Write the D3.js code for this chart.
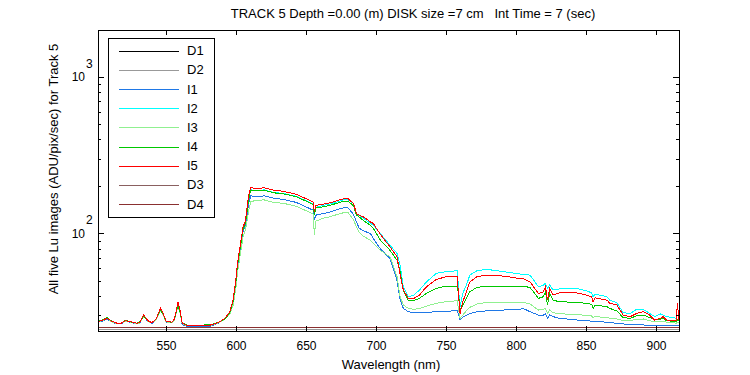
<!DOCTYPE html>
<html>
<head>
<meta charset="utf-8">
<script src="https://cdn.jsdelivr.net/npm/d3@7"></script>
<style>
  body { margin: 0; background: #fff; }
  text { font-family: "Liberation Sans", Arial, sans-serif; fill: #000; }
</style>
</head>
<body>
<div id="container"></div>
<script>
/* CONSTANTS AND GLOBALS */
const width = 750,
  height = 375,
  margin = { top: 30, bottom: 44, left: 98, right: 71 }

/* DATA */
// wavelength grid (nm) shared by the five Lu images
const wavelengths = [
  501, 505, 508, 511, 515, 518, 521, 525, 529, 531,
  534, 537, 540, 543, 546, 548, 550, 554, 556, 558.5,
  560, 561.5, 565, 573, 582, 587, 592, 595.5, 598, 600,
  601, 603, 605, 606.5, 607.5, 609, 610.5, 615, 620, 627,
  634, 643, 650, 655, 656, 657, 662, 667, 672, 677,
  680, 684, 686, 688, 691, 696, 698, 703, 710, 715,
  717, 719.5, 723, 727, 731, 736, 743, 750, 758, 759,
  760, 762, 765, 767, 772, 779, 791, 803, 805, 810,
  816, 819.5, 821, 822.5, 824, 826.5, 831, 843, 850, 854,
  855, 856.5, 865, 867, 872, 876.5, 881.5, 886, 891, 895.5,
  899, 903, 905, 907.5, 914.5, 915.2, 916.4
]

const I1 = [
  27.0, 27.6, 28.3, 27.2, 26.4, 26.5, 27.4, 27.0, 26.4, 26.6,
  29.5, 27.4, 26.6, 28.2, 32.2, 30.1, 27.1, 26.8, 27.9, 34.5,
  31.2, 26.2, 25.4, 25.3, 25.6, 26.6, 28.2, 31.0, 37, 50,
  61, 80, 103, 110, 123, 155, 174, 172, 174, 168,
  165, 158, 148, 141, 122, 131, 134, 137, 142, 146,
  146, 132, 118.6, 108, 104, 100, 93, 80, 69, 50,
  38.5, 33.2, 31.6, 31.2, 31.2, 31.3, 31.6, 31.9, 32, 30.1,
  28, 29.2, 30.1, 30.8, 31.6, 32, 32.4, 32.8, 33.2, 31.6,
  30.1, 30.1, 30.8, 28.7, 30.1, 29.4, 28.7, 28, 27.7, 27.5,
  27.4, 27.4, 27.1, 26.9, 26.7, 26.4, 26.2, 26, 26, 25.9,
  25.8, 25.8, 25.8, 25.7, 25.7, 26, 25.8
]

const I2 = [
  27.2, 27.9, 28.6, 27.4, 26.6, 26.7, 27.6, 27.2, 26.6, 26.8,
  29.8, 27.6, 26.8, 28.5, 32.8, 30.6, 27.4, 27.0, 28.2, 35.5,
  32.0, 26.7, 25.8, 25.8, 26.0, 26.9, 28.5, 31.3, 37, 50,
  62, 82, 107, 116, 132, 168, 190, 188, 190, 183,
  180, 173, 162, 155, 133, 147, 151, 154, 159, 164,
  164, 156, 133, 130, 125, 116, 113, 100, 84, 74.5,
  64, 45.6, 39.4, 40.4, 43.5, 49, 55.6, 57, 57.8, 43.5,
  34, 41.4, 48, 54.2, 57.8, 59, 57, 55, 55, 54.2,
  45.6, 46.8, 48, 44.6, 46.8, 43.5, 44.2, 44.6, 43, 41.8,
  39.4, 41, 39.4, 37.5, 36.1, 31.2, 30.8, 32.7, 32.7, 30.8,
  29.4, 30.6, 30.1, 29.4, 28.7, 30, 29
]

const I3 = [
  27.1, 27.8, 28.8, 27.3, 26.5, 26.6, 27.5, 27.1, 26.5, 26.7,
  29.4, 27.5, 26.7, 28.3, 32.0, 30.0, 27.2, 26.9, 28.0, 34.0,
  31.0, 26.6, 25.7, 25.7, 25.9, 26.7, 28.2, 30.5, 35, 46,
  56, 73, 95, 104, 115, 140, 160, 163, 164, 158,
  156, 149, 140, 133, 98, 120, 125, 128, 132, 136,
  136, 122, 110, 102, 96, 90.6, 86.7, 78, 71, 53,
  40, 34.9, 33.2, 32.7, 33.2, 34.3, 35.8, 36.6, 37.2, 32.4,
  28.7, 30.1, 32.4, 33.7, 35.4, 36.3, 36.3, 36.3, 36.3, 35.4,
  32.4, 32.7, 33.2, 30.8, 32.4, 31.2, 30.6, 30.5, 29.8, 29.7,
  29, 29.4, 29, 28.7, 28.4, 27.7, 27.7, 28.3, 28.4, 27.7,
  27.3, 27.3, 27.5, 27.1, 26.7, 27, 26.8
]

const I4 = [
  27.5, 28.1, 29.0, 27.6, 26.6, 26.8, 27.8, 27.2, 26.7, 27.0,
  29.6, 27.8, 26.9, 28.4, 32.5, 30.4, 27.4, 27.1, 28.1, 34.8,
  31.6, 26.8, 25.9, 25.9, 26.1, 27.0, 28.4, 31.0, 37, 50,
  62, 81, 106, 115, 130, 166, 189, 187, 189, 182,
  179, 172, 161, 153, 131, 146, 148, 151, 156, 161,
  161, 150, 131, 127.6, 121, 113, 108, 91, 78, 67.5,
  58, 43.5, 37.5, 37.2, 38.5, 41.4, 44.6, 46, 46, 40.4,
  32.4, 34.9, 39.4, 42.4, 45.2, 46, 45.6, 45.8, 46, 45.2,
  38.5, 39.4, 42.4, 34.9, 41.4, 37.5, 36.6, 36.3, 35.8, 35.3,
  33.2, 34.9, 34, 33.2, 32, 29, 28.7, 29.7, 30.1, 29,
  28, 28.3, 28.7, 27.7, 27.3, 28, 27.5
]

const I5 = [
  27.3, 28, 28.7, 27.5, 26.7, 26.7, 27.7, 27.3, 26.7, 26.9,
  30.1, 27.7, 26.9, 28.6, 33.2, 30.8, 27.5, 27.1, 28.3, 36.3,
  32.4, 26.7, 25.8, 25.8, 26, 26.9, 28.6, 31.6, 38, 52,
  64, 84, 110, 119, 137, 175, 196, 194, 196, 189,
  186, 178, 167, 159, 137, 151, 154, 157, 162, 167,
  167, 155, 134, 131, 127.6, 118.6, 116, 99, 82, 71,
  55.6, 43.5, 38.5, 38.5, 40.4, 45.6, 50.8, 52.9, 53.4, 39.4,
  30.8, 36.6, 43.5, 49, 52.9, 54.2, 53.4, 51.5, 51.6, 49,
  41.4, 42.4, 45.6, 37.5, 44.6, 40.4, 41.8, 41.8, 40.4, 39.4,
  36.6, 38.8, 37.5, 35.8, 34.9, 30.1, 29.4, 30.8, 31.6, 30.1,
  28, 28.7, 29.4, 28, 27.7, 35.8, 28
]

// dark images, coarser grid (they are flat near the floor)
const darkWavelengths = [501, 525, 550, 575, 600, 625, 650, 675, 700, 725, 750, 775, 800, 825, 850, 875, 900, 916.4]
const D1 = [24.3, 24.35, 24.3, 24.28, 24.33, 24.3, 24.35, 24.3, 24.28, 24.32, 24.3, 24.35, 24.3, 24.3, 24.33, 24.28, 24.3, 24.32]
const D2 = [24.35, 24.3, 24.33, 24.35, 24.28, 24.34, 24.3, 24.35, 24.33, 24.3, 24.34, 24.3, 24.35, 24.33, 24.3, 24.34, 24.35, 24.3]
const D3 = [24.9, 24.92, 24.9, 24.88, 24.91, 24.9, 24.92, 24.9, 24.89, 24.9, 24.92, 24.9, 24.9, 24.91, 24.9, 24.9, 24.92, 24.9]
const D4 = [24.95, 24.93, 24.95, 24.96, 24.94, 24.95, 24.93, 24.95, 24.96, 24.95, 24.93, 24.95, 24.94, 24.95, 24.96, 24.95, 24.93, 24.95]

const xTicks = [550, 600, 650, 700, 750, 800, 850, 900]
const yMajor = [100, 1000]
const yMinor = [30, 40, 50, 60, 70, 80, 90, 200, 300, 400, 500, 600, 700, 800, 900]

const seriesNames = ["D1", "D2", "I1", "I2", "I3", "I4", "I5", "D3", "D4"]
const seriesColors = ["#000000", "#999999", "#1f78e6", "#00ffff", "#90f090", "#00c800", "#ff0000", "#8a6060", "#8a3030"]

const series = [
  { name: "D1", wl: darkWavelengths, v: D1 },
  { name: "D2", wl: darkWavelengths, v: D2 },
  { name: "I1", wl: wavelengths, v: I1 },
  { name: "I2", wl: wavelengths, v: I2 },
  { name: "I3", wl: wavelengths, v: I3 },
  { name: "I4", wl: wavelengths, v: I4 },
  { name: "I5", wl: wavelengths, v: I5 },
  { name: "D3", wl: darkWavelengths, v: D3 },
  { name: "D4", wl: darkWavelengths, v: D4 }
].map(s => ({ name: s.name, points: s.wl.map((w, i) => ({ wl: w, val: s.v[i] })) }))

const color = d3.scaleOrdinal().domain(seriesNames).range(seriesColors)

/* SCALES */
const xScale = d3.scaleLinear()
  .domain([501.4, 916.4])
  .range([margin.left, width - margin.right])

const yScale = d3.scaleLog()
  .domain([23.8, 2000])
  .range([height - margin.bottom, margin.top])

/* SVG */
const svg = d3.select("#container")
  .append("svg")
  .attr("width", width)
  .attr("height", height)

svg.append("defs").append("clipPath")
  .attr("id", "plotClip")
  .append("rect")
  .attr("x", margin.left)
  .attr("y", margin.top)
  .attr("width", width - margin.left - margin.right + 1)
  .attr("height", height - margin.top - margin.bottom + 1)

// LINES
const lineGen = d3.line()
  .x(d => xScale(d.wl))
  .y(d => yScale(d.val))

svg.append("g")
  .attr("clip-path", "url(#plotClip)")
  .selectAll(".line")
  .data(series)
  .join("path")
  .attr("class", "line")
  .attr("fill", "none")
  .attr("stroke", d => color(d.name))
  .attr("stroke-width", 1)
  .attr("shape-rendering", "crispEdges")
  .attr("d", d => lineGen(d.points))

// AXES (ticks point inward, as in the reference)
const styleAxis = g => {
  g.select(".domain").remove()
  g.selectAll("line").attr("stroke", "#000").attr("shape-rendering", "crispEdges")
  g.selectAll("text").style("font-size", "12px").style("font-family", "'Liberation Sans', Arial, sans-serif")
}

svg.append("g")
  .attr("transform", `translate(0, ${height - margin.bottom})`)
  .call(d3.axisBottom(xScale).tickValues(xTicks).tickSize(-5).tickPadding(10).tickFormat(d3.format("d")))
  .call(styleAxis)

svg.append("g")
  .attr("transform", `translate(0, ${margin.top})`)
  .call(d3.axisTop(xScale).tickValues(xTicks).tickSize(-5).tickFormat(""))
  .call(styleAxis)

svg.append("g")
  .attr("transform", `translate(${margin.left}, 0)`)
  .call(d3.axisLeft(yScale).tickValues(yMajor).tickSize(-6).tickFormat(""))
  .call(styleAxis)

svg.append("g")
  .attr("transform", `translate(${margin.left}, 0)`)
  .call(d3.axisLeft(yScale).tickValues(yMinor).tickSize(-3).tickFormat(""))
  .call(styleAxis)

svg.append("g")
  .attr("transform", `translate(${width - margin.right}, 0)`)
  .call(d3.axisRight(yScale).tickValues(yMajor).tickSize(-6).tickFormat(""))
  .call(styleAxis)

svg.append("g")
  .attr("transform", `translate(${width - margin.right}, 0)`)
  .call(d3.axisRight(yScale).tickValues(yMinor).tickSize(-3).tickFormat(""))
  .call(styleAxis)

// y tick labels 10^2, 10^3
const yLabels = svg.append("g").selectAll("g")
  .data(yMajor)
  .join("g")
  .attr("transform", d => `translate(${margin.left - 13}, ${yScale(d)})`)

yLabels.append("text")
  .attr("text-anchor", "end")
  .attr("y", 4.3)
  .style("font-size", "12px")
  .text("10")

yLabels.append("text")
  .attr("x", 1)
  .attr("y", -9.4)
  .style("font-size", "12px")
  .text(d => Math.round(Math.log10(d)))

// FRAME
svg.append("rect")
  .attr("x", margin.left + 0.5)
  .attr("y", margin.top + 0.5)
  .attr("width", width - margin.left - margin.right)
  .attr("height", height - margin.top - margin.bottom)
  .attr("fill", "none")
  .attr("stroke", "#000")
  .attr("shape-rendering", "crispEdges")

// TITLES
svg.append("text")
  .attr("x", 413)
  .attr("y", 18)
  .attr("text-anchor", "middle")
  .style("font-size", "13px")
  .style("white-space", "pre")
  .text("TRACK 5 Depth =0.00 (m) DISK size =7 cm   Int Time = 7 (sec)")

svg.append("text")
  .attr("x", 391)
  .attr("y", 369)
  .attr("text-anchor", "middle")
  .style("font-size", "13px")
  .text("Wavelength (nm)")

svg.append("text")
  .attr("transform", "rotate(-90)")
  .attr("x", -169)
  .attr("y", 58)
  .attr("text-anchor", "middle")
  .style("font-size", "13px")
  .text("All five Lu images (ADU/pix/sec) for Track 5")

// LEGEND
const legend = svg.append("g")

legend.append("rect")
  .attr("x", 108.5)
  .attr("y", 38.5)
  .attr("width", 105.5)
  .attr("height", 179)
  .attr("fill", "#fff")
  .attr("stroke", "#000")
  .attr("shape-rendering", "crispEdges")

const legendRow = legend.selectAll(".row")
  .data(seriesNames)
  .join("g")
  .attr("class", "row")
  .attr("transform", (d, i) => `translate(0, ${50.7 + i * 19.16})`)

legendRow.append("line")
  .attr("x1", 119)
  .attr("x2", 179)
  .attr("y1", 0.5)
  .attr("y2", 0.5)
  .attr("stroke", d => color(d))
  .attr("shape-rendering", "crispEdges")

legendRow.append("text")
  .attr("x", 187)
  .attr("y", 4.6)
  .style("font-size", "13px")
  .text(d => d)
</script>
</body>
</html>
